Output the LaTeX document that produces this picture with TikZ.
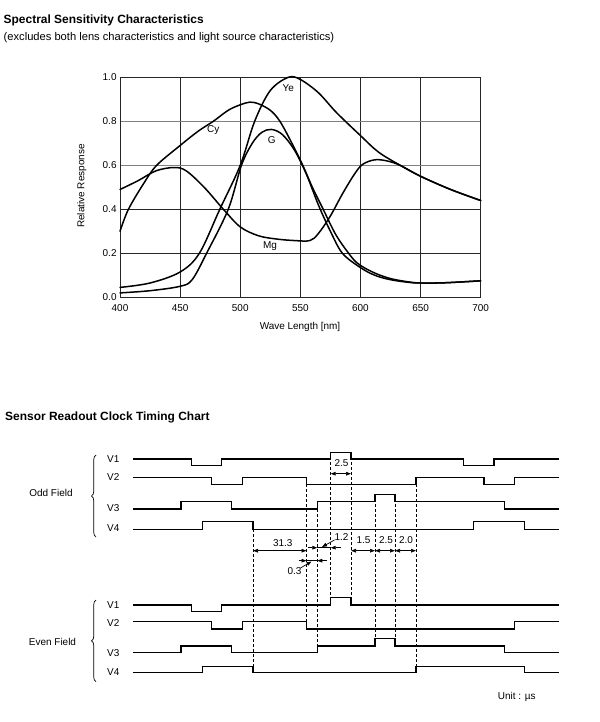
\documentclass[tikz,border=0pt]{standalone}
\usepackage{fontspec}
\setmainfont{Liberation Sans}
\usetikzlibrary{arrows.meta,decorations.pathreplacing}
\begin{document}
\begin{tikzpicture}[x=1bp,y=-1bp,
 >={Triangle[length=5bp,width=3.6bp]},
 lbl/.style={font=\fontsize{10}{12}\selectfont, inner sep=0pt},
 ttl/.style={font=\fontsize{12}{14}\selectfont\bfseries, inner sep=0pt, anchor=west},
 curve/.style={line width=1.5bp, line join=round, line cap=round},
 gridblack/.style={line width=0.8bp, black!85},
 gridgray/.style={line width=0.8bp, black!50},
 wave/.style={line width=1.3bp, line join=miter},
 guide/.style={line width=0.9bp, dash pattern=on 3bp off 2bp},
 dimline/.style={line width=0.7bp},
 fieldbrace/.style={decorate, decoration={brace, amplitude=4.5bp}, line width=0.7bp}
]
\useasboundingbox[fill=white] (0,0) rectangle (600,722);

% ---------- titles ----------
\node[ttl] (t1) at (3.5,20) {Spectral Sensitivity Characteristics};
\node[anchor=west, inner sep=0pt, font=\fontsize{11.2}{13}\selectfont] (t2) at (3.5,38)
  {(excludes both lens characteristics and light source characteristics)};
\node[ttl] (t3) at (5,417.3) {Sensor Readout Clock Timing Chart};

% ---------- spectral plot ----------
\begin{scope}[shift={(-360.92,297.3)}, x=1.2023bp, y=220bp]
  \foreach \xx in {450,500,...,650} \draw[gridblack] (\xx,0) -- (\xx,1);
  \foreach \yy in {0.2,0.4} \draw[gridblack] (400,\yy) -- (700,\yy);
  \foreach \yy in {0.6,0.8} \draw[gridgray] (400,\yy) -- (700,\yy);
  \draw[gridblack] (400,0) rectangle (700,1);
  \foreach \xx in {400,450,...,700}
    \node[lbl] (xt\xx) at (\xx,-0.05) {\xx};
  \foreach \v/\t/\n in {0/0.0/a,0.2/0.2/b,0.4/0.4/c,0.6/0.6/d,0.8/0.8/e,1/1.0/f}
    \node[lbl, anchor=east] (yt\n) at (397.3,\v) {\t};

  % Ye
  \draw[curve] plot[smooth, tension=0.55] coordinates {
    (400,0.045) (425,0.065) (450,0.115) (466,0.2) (483,0.4) (500,0.6) (512,0.8)
    (525,0.94) (540,1.0) (550,0.99) (565,0.93) (580,0.84) (600,0.735) (615,0.66)
    (633,0.6) (650,0.55) (675,0.49) (700,0.44)};
  % Cy
  \draw[curve] plot[smooth, tension=0.55] coordinates {
    (400,0.3) (407,0.4) (420,0.52) (430.5,0.6) (450,0.69) (465,0.755) (477.6,0.8)
    (490,0.85) (500,0.875) (508,0.887) (515,0.88) (525,0.85) (533,0.8) (543,0.7)
    (552,0.6) (560,0.5) (569,0.4) (580,0.28) (593,0.18) (600,0.145) (612,0.11)
    (625,0.085) (640,0.07) (650,0.065) (670,0.066) (700,0.075)};
  % G
  \draw[curve] plot[smooth, tension=0.55] coordinates {
    (400,0.02) (425,0.03) (450,0.05) (460,0.08) (472,0.2) (490,0.4) (501,0.6)
    (510,0.7) (518,0.75) (526,0.763) (535,0.74) (545,0.67) (555,0.56) (565,0.42)
    (575,0.3) (585,0.2) (600,0.135) (612,0.1) (625,0.08) (640,0.068) (650,0.065)
    (670,0.066) (700,0.075)};
  % Mg
  \draw[curve] plot[smooth, tension=0.55] coordinates {
    (400,0.49) (415,0.53) (430,0.575) (445,0.59) (455,0.575) (470,0.5) (486,0.4)
    (500,0.32) (515,0.28) (530,0.265) (545,0.258) (558,0.258) (565,0.29) (575,0.37)
    (585,0.47) (595,0.56) (602,0.605) (612,0.625) (622,0.62) (633,0.6) (650,0.55)
    (675,0.49) (700,0.44)};
\end{scope}
\node[lbl] (lye) at (288.3,88.3) {Ye};
\node[lbl] (lcy) at (213.3,130) {Cy};
\node[lbl] (lg) at (271.7,140) {G};
\node[lbl] (lmg) at (270,246) {Mg};
\node[lbl, rotate=90] (yax) at (81.7,186) {Relative Response};
\node[lbl] (xax) at (300,326.7) {Wave Length [nm]};

% ---------- timing chart: labels ----------
\node[lbl] (odd) at (51,493.3) {Odd Field};
\node[lbl] (even) at (52.5,641.7) {Even Field};
\draw[fieldbrace] (96,537) -- (96,455);
\draw[fieldbrace] (96,681.7) -- (96,600);
\node[lbl] (o1) at (113.3,459.3) {V1};
\node[lbl] (o2) at (113.3,477) {V2};
\node[lbl] (o3) at (113.3,508.3) {V3};
\node[lbl] (o4) at (113.3,528.3) {V4};
\node[lbl] (e1) at (113.3,605) {V1};
\node[lbl] (e2) at (113.3,622.7) {V2};
\node[lbl] (e3) at (113.3,653.3) {V3};
\node[lbl] (e4) at (113.3,672.3) {V4};
\node[lbl] (unit) at (516.7,697.3) {Unit : µs};

% ---------- odd field waveforms ----------
\draw[wave] (133,459) -- (191.7,459) -- (191.7,465.5) -- (221.7,465.5) -- (221.7,459)
  -- (330.7,459) -- (330.7,452.3) -- (351,452.3) -- (351,459) -- (463.3,459)
  -- (463.3,465.5) -- (494,465.5) -- (494,459) -- (559,459);
\draw[wave] (133,477.7) -- (211.7,477.7) -- (211.7,484.3) -- (242.3,484.3) -- (242.3,477.7)
  -- (306.5,477.7) -- (306.5,484.3) -- (416,484.3) -- (416,477.7) -- (484,477.7)
  -- (484,484.3) -- (514.3,484.3) -- (514.3,477.7) -- (559,477.7);
\draw[wave] (133,509) -- (181,509) -- (181,501.7) -- (231.7,501.7) -- (231.7,509)
  -- (317.3,509) -- (317.3,501.7) -- (375,501.7) -- (375,494.3) -- (395,494.3)
  -- (395,501.7) -- (504.3,501.7) -- (504.3,509) -- (559,509);
\draw[wave] (133,529.3) -- (202.3,529.3) -- (202.3,521.7) -- (253,521.7) -- (253,529.3)
  -- (473.3,529.3) -- (473.3,521.7) -- (524.3,521.7) -- (524.3,529.3) -- (559,529.3);

% ---------- even field waveforms ----------
\draw[wave] (133,605) -- (191.7,605) -- (191.7,611.7) -- (221.7,611.7) -- (221.7,605)
  -- (330.7,605) -- (330.7,597.3) -- (351,597.3) -- (351,605) -- (559,605);
\draw[wave] (133,621.7) -- (211.7,621.7) -- (211.7,629) -- (242.3,629) -- (242.3,621.7)
  -- (306.5,621.7) -- (306.5,629) -- (514.3,629) -- (514.3,621.7) -- (559,621.7);
\draw[wave] (133,652.3) -- (181,652.3) -- (181,646) -- (231.7,646) -- (231.7,652.3)
  -- (317.3,652.3) -- (317.3,646) -- (375,646) -- (375,638.7) -- (395,638.7)
  -- (395,646) -- (504.3,646) -- (504.3,652.3) -- (559,652.3);
\draw[wave] (133,672.7) -- (202.3,672.7) -- (202.3,666.3) -- (253,666.3) -- (253,672.7)
  -- (416,672.7) -- (416,666.3) -- (524.3,666.3) -- (524.3,672.7) -- (559,672.7);

% ---------- dashed guides ----------
\draw[guide] (253,529.3) -- (253,666.3);
\draw[guide] (306.5,484.3) -- (306.5,621.7);
\draw[guide] (317.3,509) -- (317.3,646);
\draw[guide] (330.7,452.3) -- (330.7,597.3);
\draw[guide] (351,452.3) -- (351,597.3);
\draw[guide] (375,494.3) -- (375,638.7);
\draw[guide] (395,494.3) -- (395,638.7);
\draw[guide] (416,484.3) -- (416,666.3);

% ---------- dimensions ----------
\draw[dimline, <->] (330.7,473.7) -- (351,473.7);
\node[lbl] (d25a) at (341.5,463.5) {2.5};

\draw[dimline, <->] (253,550.7) -- (306.5,550.7);
\node[lbl] (d313) at (282.7,543.3) {31.3};

\draw[dimline, ->] (307.5,547.7) -- (317.3,547.7);
\draw[dimline] (317.3,547.7) -- (330.7,547.7);
\draw[dimline, ->] (341,547.7) -- (330.7,547.7);
\node[lbl] (d12) at (341.5,537) {1.2};
\draw[dimline, ->] (334.5,540) -- (322,547);

\draw[dimline, ->] (298.5,560.7) -- (306.5,560.7);
\draw[dimline] (306.5,560.7) -- (317.3,560.7);
\draw[dimline, ->] (327,560.7) -- (317.3,560.7);
\node[lbl] (d03) at (294.5,571) {0.3};
\draw[dimline, ->] (300.5,568) -- (311.5,561.5);

\draw[dimline, <->] (351,550.7) -- (375,550.7);
\draw[dimline, <->] (375,550.7) -- (395,550.7);
\draw[dimline, <->] (395,550.7) -- (416,550.7);
\node[lbl] (d15) at (363.5,540) {1.5};
\node[lbl] (d25b) at (386,540) {2.5};
\node[lbl] (d20) at (406,540) {2.0};
\end{tikzpicture}
\end{document}
